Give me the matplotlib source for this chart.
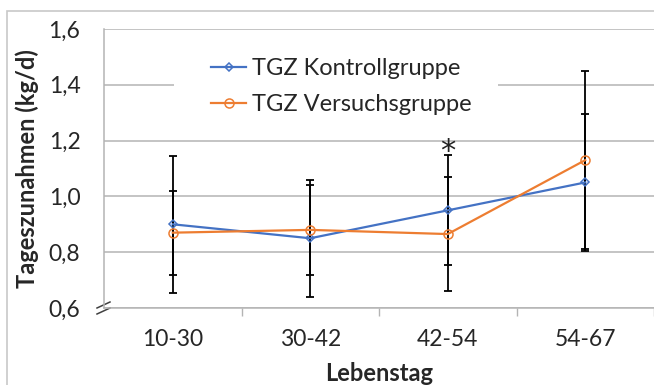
import matplotlib
matplotlib.use("Agg")
import matplotlib.pyplot as plt
from matplotlib.patches import Rectangle

plt.rcParams["font.family"] = ["Lato", "DejaVu Sans"]

# Daten
categories = ["10-30", "30-42", "42-54", "54-67"]
kontroll = [0.90, 0.85, 0.95, 1.05]
kontroll_err = [0.245, 0.21, 0.197, 0.245]
versuch = [0.87, 0.88, 0.865, 1.13]
versuch_err = [0.15, 0.16, 0.205, 0.32]
y_ticks = [0.6, 0.8, 1.0, 1.2, 1.4, 1.6]
y_tick_labels = ["0,6", "0,8", "1,0", "1,2", "1,4", "1,6"]
signif_cat = 2
signif_y = 1.16

BLUE = "#4472C4"
ORANGE = "#ED7D31"
GRID = "#b4b4b4"
TEXT = "#262626"

fig = plt.figure(figsize=(6.54, 3.85), dpi=100)
ax = fig.add_axes([104 / 654, 1 - 308 / 385, 550 / 654, 279 / 385])

x = list(range(len(categories)))

# Fehlerbalken
ax.errorbar(x, kontroll, yerr=kontroll_err, fmt="none", ecolor="black",
            elinewidth=1.3, capsize=3, capthick=1.3, zorder=2)
ax.errorbar(x, versuch, yerr=versuch_err, fmt="none", ecolor="black",
            elinewidth=1.3, capsize=3, capthick=1.3, zorder=2)

# Linien
ax.plot(x, kontroll, color=BLUE, lw=1.6, marker="D", markersize=4.5,
        mfc="none", mec=BLUE, mew=1.1, label="TGZ Kontrollgruppe", zorder=3)
ax.plot(x, versuch, color=ORANGE, lw=1.6, marker="o", markersize=6.5,
        mfc="none", mec=ORANGE, mew=1.1, label="TGZ Versuchsgruppe", zorder=3)

ax.text(signif_cat, signif_y, "*", ha="center", va="center", fontsize=22,
        color="#222222", family="DejaVu Sans")

# Achsen
ax.set_xlim(-0.5, len(categories) - 0.5)
ax.set_ylim(0.6, 1.6)
ax.set_yticks(y_ticks)
ax.set_yticklabels(y_tick_labels)
ax.set_xticks(x)
ax.set_xticklabels(categories)
ax.set_xticks([i + 0.5 for i in x], minor=True)
ax.tick_params(axis="x", which="major", length=0, pad=15, labelsize=16.5,
               labelcolor=TEXT)
ax.tick_params(axis="x", which="minor", length=6, width=1, color=GRID)
ax.tick_params(axis="y", length=0, pad=17, labelsize=16.5, labelcolor=TEXT)

ax.grid(axis="y", color=GRID, lw=1.1)
ax.set_axisbelow(True)
for s in ["top", "right"]:
    ax.spines[s].set_visible(False)
ax.spines["left"].set_color(GRID)
ax.spines["bottom"].set_color(GRID)
ax.spines["left"].set_linewidth(1.1)
ax.spines["bottom"].set_linewidth(1.1)

# Achsenbruch
for dy in (-3, 3):
    ax.plot([-7 / 550, 6 / 550], [(dy - 3) / 279, (dy + 3) / 279],
            transform=ax.transAxes, color="#404040", lw=1.1, clip_on=False)

ax.set_ylabel("Tageszunahmen (kg/d)", fontsize=17, fontweight="bold",
              color=TEXT)
ax.yaxis.set_label_coords(-0.118, 0.5)
ax.set_xlabel("Lebenstag", fontsize=17, fontweight="bold", color=TEXT,
              va="top")
ax.xaxis.set_label_coords(0.5, -0.195)

# Legende mit weissem Hintergrund
ax.add_patch(Rectangle((70 / 550, 180 / 279), 324 / 550, 88 / 279,
                       transform=ax.transAxes, facecolor="white",
                       edgecolor="none", zorder=1))
leg = ax.legend(loc="upper left", bbox_to_anchor=(107 / 550, 1 - 29 / 279),
                frameon=False, fontsize=17, handlelength=1.5,
                handletextpad=0.25, labelspacing=0.63, borderpad=0,
                borderaxespad=0)
for t in leg.get_texts():
    t.set_color(TEXT)

# Rahmen
fig.patches.append(Rectangle((7 / 654, -0.1), 2, 1 - 11 / 385 + 0.1,
                             transform=fig.transFigure, fill=False,
                             edgecolor="#c8c8c8", lw=1.2))

fig.savefig("out.png", dpi=100)
